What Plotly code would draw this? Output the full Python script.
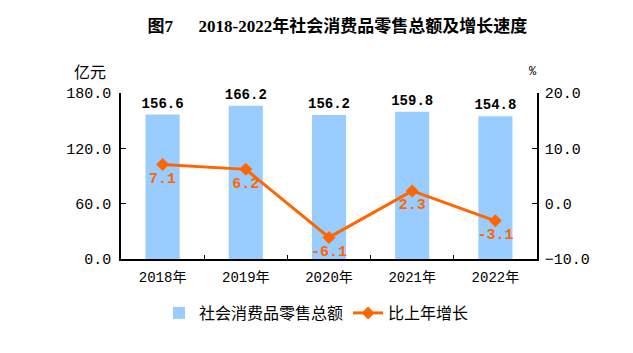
import plotly.graph_objects as go

years = ["2018年", "2019年", "2020年", "2021年", "2022年"]
sales = [156.6, 166.2, 156.2, 159.8, 154.8]
growth = [7.1, 6.2, -6.1, 2.3, -3.1]
left_ticks = [0, 60, 120, 180]
right_ticks = [-10, 0, 10, 20]

FONT = "Liberation Mono, Noto Sans CJK SC"
BLUE = "#99CCFF"
ORANGE = "#FF6600"

fig = go.Figure()
fig.add_trace(go.Bar(
    x=years, y=sales, name="社会消费品零售总额",
    marker=dict(color=BLUE, line=dict(width=0)),
    width=0.41,
    text=[f"{v:.1f}" for v in sales], textposition="outside",
    constraintext="none",
    textfont=dict(family=FONT, size=14, color="black", weight="bold"),
    cliponaxis=False,
))
fig.add_trace(go.Scatter(
    x=years, y=growth, name="比上年增长", yaxis="y2",
    mode="lines+markers+text",
    line=dict(color=ORANGE, width=3),
    marker=dict(symbol="diamond", size=10, color=ORANGE),
    text=[f"{v:.1f}" for v in growth], textposition="bottom center",
    textfont=dict(family=FONT, size=15, color=ORANGE, weight="bold"),
    cliponaxis=False,
))

pw, ph = 633 - 121 - 96, 353 - 93 - 94

def px_x(x):
    return (x - 121) / pw

def px_y(y):
    return (353 - 94 - y) / ph

fig.update_layout(
    width=633, height=353,
    margin=dict(l=121, r=96, t=93, b=94),
    paper_bgcolor="white", plot_bgcolor="white",
    font=dict(family=FONT, size=13, color="black"),
    showlegend=True,
    bargap=0.59,
    title=dict(text="<b>图7      2018-2022年社会消费品零售总额及增长速度</b>",
               x=0.533, xanchor="center", y=0.925, yanchor="middle",
               font=dict(family="Liberation Serif, Noto Sans CJK SC", size=17, color="black")),
    xaxis=dict(type="category", showline=True, linecolor="black", linewidth=1.5,
               ticks="inside", tickson="boundaries", ticklen=4, tickcolor="black",
               showgrid=False, tickfont=dict(size=14), mirror=False,
               ticklabelstandoff=4),
    yaxis=dict(range=[0, 180], tickvals=left_ticks, tickformat=".1f",
               showline=True, linecolor="black", linewidth=1.5,
               ticks="inside", ticklen=5, tickcolor="black",
               showgrid=False, zeroline=False, tickfont=dict(size=15),
               ticklabelstandoff=5),
    yaxis2=dict(range=[-10, 20], tickvals=right_ticks, tickformat=".1f",
                overlaying="y", side="right",
                showline=True, linecolor="black", linewidth=1.5,
                ticks="inside", ticklen=5, tickcolor="black",
                showgrid=False, zeroline=False, tickfont=dict(size=15),
                ticklabelstandoff=3),
    legend=dict(orientation="h", x=0.47, xanchor="center", y=px_y(313), yanchor="middle",
                font=dict(family="Noto Sans CJK SC", size=16), itemwidth=30,
                tracegroupgap=20),
    annotations=[
        dict(text="亿元", x=px_x(90), y=px_y(71), xref="paper", yref="paper",
             xanchor="center", yanchor="middle", showarrow=False,
             font=dict(family="Noto Sans CJK SC", size=16)),
        dict(text="%", x=px_x(533), y=px_y(72), xref="paper", yref="paper",
             xanchor="center", yanchor="middle", showarrow=False,
             font=dict(size=12)),
    ],
)
fig.write_html("out.html")
